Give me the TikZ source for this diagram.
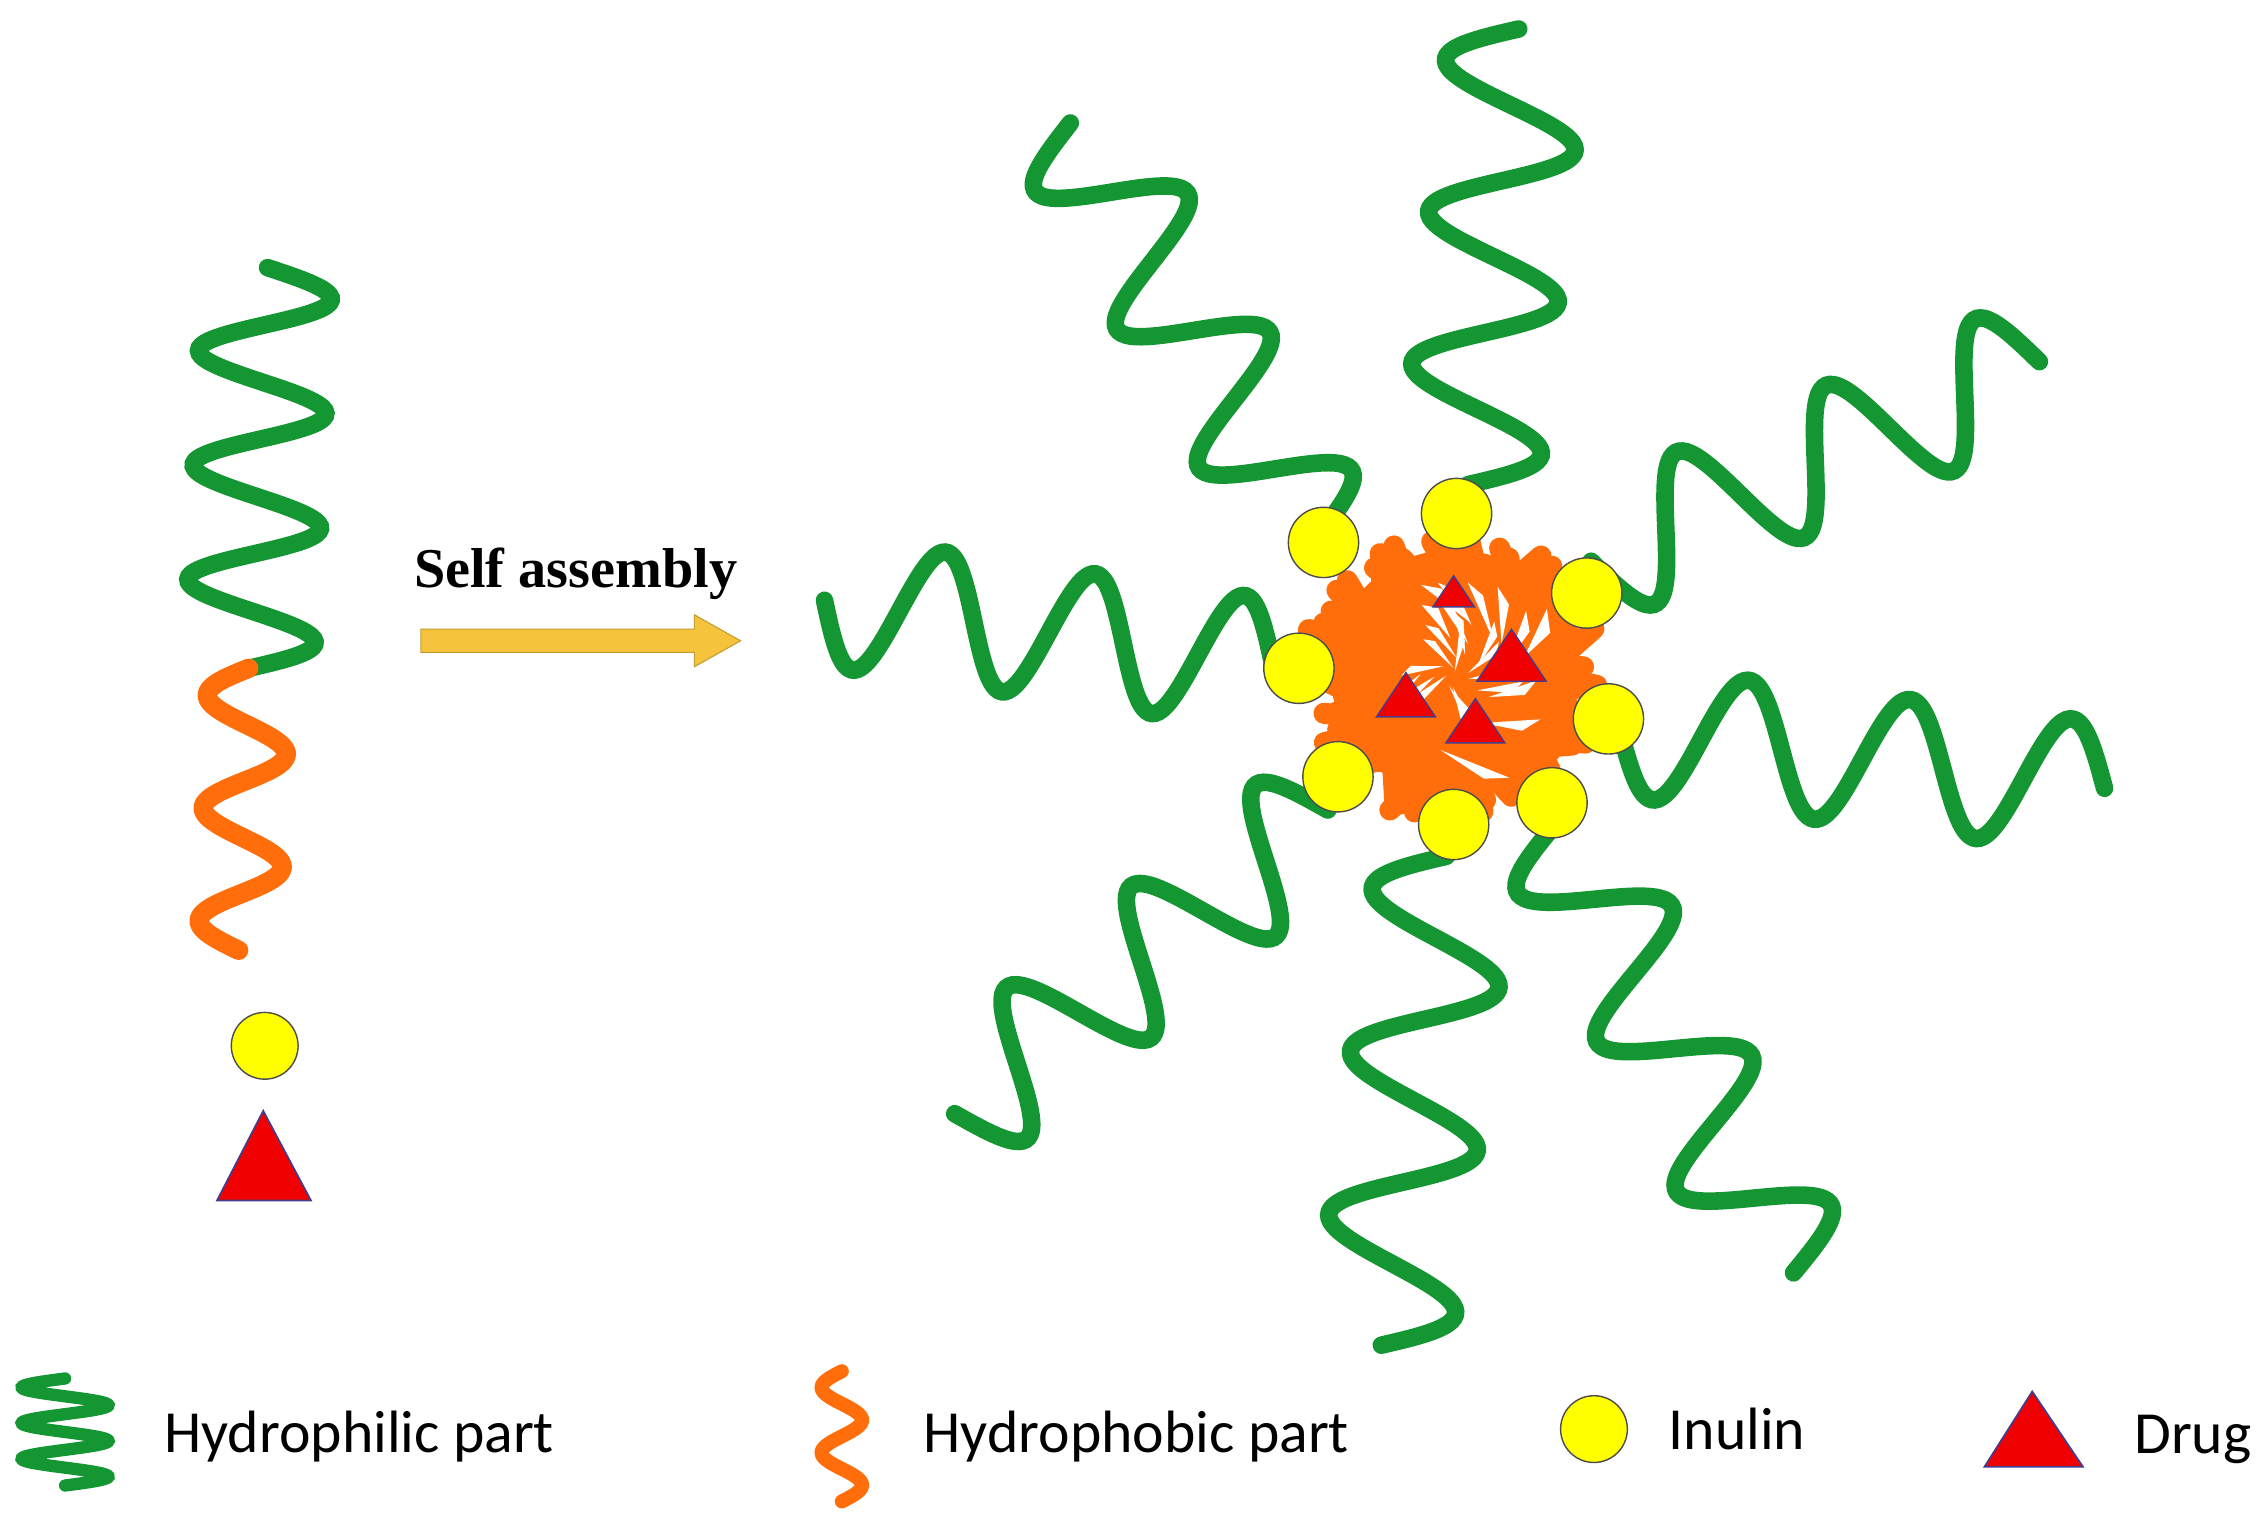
\documentclass[tikz,border=0pt]{standalone}
\usepackage{fontspec}
\setmainfont{Carlito}
\newfontfamily\serifb{Liberation Serif}
\definecolor{gr}{RGB}{20,150,50}
\definecolor{og}{RGB}{255,110,10}
\definecolor{yl}{RGB}{255,255,0}
\definecolor{rd}{RGB}{240,0,0}
\definecolor{ar}{RGB}{245,195,60}
\definecolor{tribd}{RGB}{70,60,140}
\newcommand\wave[7]{%
\pgfmathsetmacro\wdx{#3-#1}\pgfmathsetmacro\wdy{#4-#2}%
\pgfmathsetmacro\wL{veclen(\wdx,\wdy)}\pgfmathsetmacro\wang{atan2(\wdy,\wdx)}%
\begin{scope}[shift={(#1,#2)},rotate=-\wang]
\draw[#7] plot[domain=0:\wL,samples=150,smooth] (\x,{#6*sin(\x/\wL*#5*360)});
\end{scope}}
\begin{document}
\begin{tikzpicture}[x=0.014464cm,y=-0.014464cm,
 gch/.style={gr,line width=5pt,line cap=round},
 och/.style={og,line width=5.5pt,line cap=round},
 inu/.style={circle,fill=yl,draw=black!70,line width=0.4pt,minimum size=#1,inner sep=0},
 lab/.style={font=\fontsize{17}{20}\selectfont,anchor=west}]
\useasboundingbox (0,0) rectangle (1568,1051.6);
% left molecule
\wave{172}{462}{185}{185}{3.5}{45}{gch}
\wave{172}{462}{165}{657}{2.5}{28}{och}
\node[inu=19pt] (i0) at (183,723) {};
\draw[fill=rd,draw=tribd,line width=0.5pt] (150,830) -- (182,768) -- (215,830) -- cycle;
% arrow
\draw[fill=ar,draw=ar!80!black,line width=0.3pt] (291,435) -- (480,435) -- (480,425) -- (512,443) -- (480,461) -- (480,451) -- (291,451) -- cycle;
\node[font=\serifb\bfseries\fontsize{16}{18}\selectfont] (sa) at (398,397) {Self assembly};
% arms
\wave{880}{460}{570}{415}{3}{45}{gch}
\wave{910}{372}{740}{85}{3}{45}{gch}
\wave{1015}{335}{1050}{20}{3}{48}{gch}
\wave{1100}{388}{1410}{250}{3}{45}{gch}
\wave{1120}{505}{1455}{545}{3}{45}{gch}
\wave{1075}{570}{1240}{880}{3}{45}{gch}
\wave{1000}{592}{955}{930}{3}{48}{gch}
\wave{918}{560}{660}{770}{3}{45}{gch}
% core scribble
\fill[og] (1005,465) circle[radius=35pt];
\pgfmathsetseed{5}
\foreach \i in {1,...,45}{
 \pgfmathsetmacro\aa{360*rnd}\pgfmathsetmacro\bb{\aa+90+150*rnd}
 \pgfmathsetmacro\ra{80+25*rnd}\pgfmathsetmacro\rb{80+25*rnd}
 \draw[og,line width=6pt,line cap=round] ({1005+\ra*cos(\aa)},{465+\ra*sin(\aa)}) -- ({1005+\rb*cos(\bb)},{465+\rb*sin(\bb)});
}
\foreach \i in {1,...,26}{
 \pgfmathsetmacro\rr{25+60*rnd}\pgfmathsetmacro\aa{360*rnd}\pgfmathsetmacro\bb{\aa+20+25*rnd}
 \fill[white] ({1005+\rr*cos(\aa)},{465+\rr*sin(\aa)}) -- ({1005+(\rr-28)*cos(\bb)},{465+(\rr-28)*sin(\bb)}) -- ({1005+(\rr-6)*cos(\aa+12)},{465+(\rr-6)*sin(\aa+12)}) -- cycle;
}
% inulins on core
\foreach \p/\n in {{915,375}/c1,{1007,355}/c2,{1097,410}/c3,{898,462}/c4,{1112,497}/c5,{925,537}/c6,{1005,570}/c7,{1073,555}/c8}
 \node[inu=20pt] (\n) at (\p) {};
% drugs in core
\foreach \x/\y/\s in {1005/410/0.6,1045/455/1,972/482/0.85,1020/500/0.85}
 \draw[fill=rd,draw=tribd,line width=0.4pt] ({\x-24*\s},{\y+16*\s}) -- (\x,{\y-20*\s}) -- ({\x+24*\s},{\y+16*\s}) -- cycle;
% legend
\wave{45}{953}{45}{1027}{3}{30}{gr,line width=3.5pt,line cap=round}
\node[lab] (l1) at (105,993) {Hydrophilic part};
\wave{582}{948}{582}{1038}{2}{14}{og,line width=4pt,line cap=round}
\node[lab] (l2) at (630,993) {Hydrophobic part};
\node[inu=19pt] (li) at (1102,988) {};
\node[lab] (l3) at (1145,988) {Inulin};
\draw[fill=rd,draw=tribd,line width=0.5pt] (1372,1014) -- (1405,962) -- (1440,1014) -- cycle;
\node[lab] (l4) at (1467,995) {Drug};
\end{tikzpicture}
\end{document}
